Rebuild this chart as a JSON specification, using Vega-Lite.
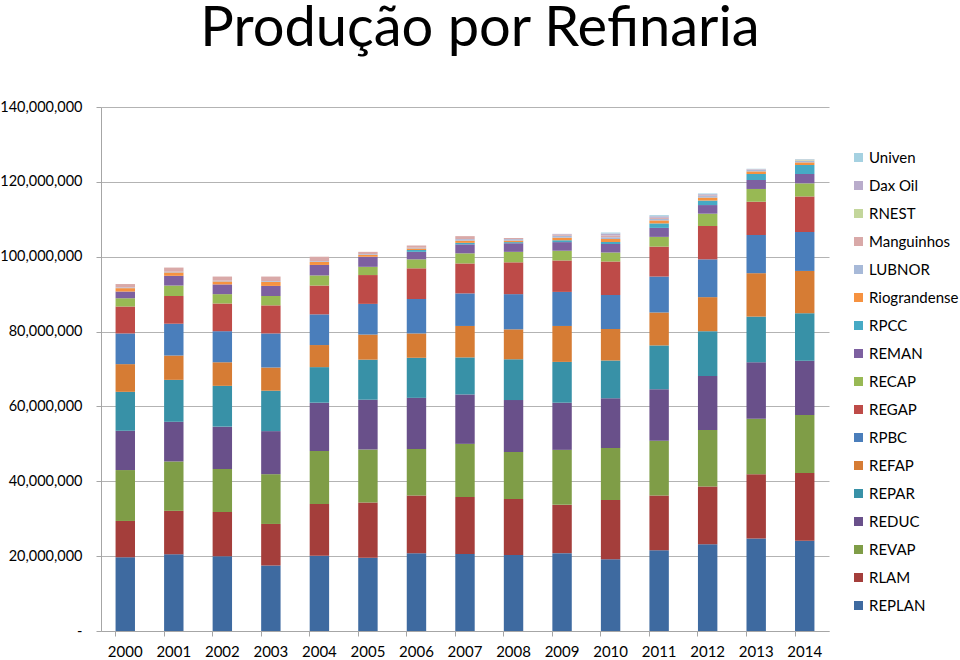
{
  "$schema": "https://vega.github.io/schema/vega-lite/v6.json",
  "autosize": "none",
  "width": 728,
  "height": 524,
  "padding": {"left": 101, "top": 107, "right": 131, "bottom": 29},
  "background": "white",
  "title": {
    "text": "Produção por Refinaria",
    "font": "Lato",
    "fontSize": 56,
    "fontWeight": "normal",
    "color": "#000000",
    "anchor": "middle",
    "frame": "group",
    "baseline": "bottom",
    "offset": -15,
    "dx": 15
  },
  "data": {
    "values": [
      {"ano": "2000", "REPLAN": 19700000, "RLAM": 9700000, "REVAP": 13600000, "REDUC": 10500000, "REPAR": 10400000, "REFAP": 7400000, "RPBC": 8200000, "REGAP": 7200000, "RECAP": 2200000, "REMAN": 1800000, "RPCC": 0, "Riograndense": 900000, "LUBNOR": 200000, "Manguinhos": 900000, "RNEST": 0, "Dax Oil": 0, "Univen": 0},
      {"ano": "2001", "REPLAN": 20500000, "RLAM": 11600000, "REVAP": 13200000, "REDUC": 10600000, "REPAR": 11200000, "REFAP": 6500000, "RPBC": 8500000, "REGAP": 7400000, "RECAP": 2800000, "REMAN": 2600000, "RPCC": 0, "Riograndense": 900000, "LUBNOR": 200000, "Manguinhos": 1100000, "RNEST": 0, "Dax Oil": 0, "Univen": 0},
      {"ano": "2002", "REPLAN": 20000000, "RLAM": 11800000, "REVAP": 11500000, "REDUC": 11300000, "REPAR": 10900000, "REFAP": 6300000, "RPBC": 8300000, "REGAP": 7400000, "RECAP": 2500000, "REMAN": 2600000, "RPCC": 0, "Riograndense": 800000, "LUBNOR": 200000, "Manguinhos": 1100000, "RNEST": 0, "Dax Oil": 0, "Univen": 0},
      {"ano": "2003", "REPLAN": 17500000, "RLAM": 11100000, "REVAP": 13300000, "REDUC": 11500000, "REPAR": 10800000, "REFAP": 6200000, "RPBC": 9100000, "REGAP": 7500000, "RECAP": 2500000, "REMAN": 2700000, "RPCC": 0, "Riograndense": 1100000, "LUBNOR": 200000, "Manguinhos": 1200000, "RNEST": 0, "Dax Oil": 0, "Univen": 0},
      {"ano": "2004", "REPLAN": 20100000, "RLAM": 13800000, "REVAP": 14200000, "REDUC": 12900000, "REPAR": 9500000, "REFAP": 5900000, "RPBC": 8200000, "REGAP": 7700000, "RECAP": 2700000, "REMAN": 2800000, "RPCC": 0, "Riograndense": 800000, "LUBNOR": 200000, "Manguinhos": 1200000, "RNEST": 0, "Dax Oil": 0, "Univen": 0},
      {"ano": "2005", "REPLAN": 19600000, "RLAM": 14700000, "REVAP": 14200000, "REDUC": 13300000, "REPAR": 10700000, "REFAP": 6700000, "RPBC": 8200000, "REGAP": 7700000, "RECAP": 2200000, "REMAN": 2700000, "RPCC": 0, "Riograndense": 500000, "LUBNOR": 200000, "Manguinhos": 600000, "RNEST": 0, "Dax Oil": 0, "Univen": 0},
      {"ano": "2006", "REPLAN": 20800000, "RLAM": 15400000, "REVAP": 12400000, "REDUC": 13700000, "REPAR": 10700000, "REFAP": 6500000, "RPBC": 9200000, "REGAP": 8200000, "RECAP": 2400000, "REMAN": 2000000, "RPCC": 500000, "Riograndense": 400000, "LUBNOR": 200000, "Manguinhos": 600000, "RNEST": 0, "Dax Oil": 0, "Univen": 0},
      {"ano": "2007", "REPLAN": 20600000, "RLAM": 15200000, "REVAP": 14200000, "REDUC": 13200000, "REPAR": 9900000, "REFAP": 8400000, "RPBC": 8700000, "REGAP": 8000000, "RECAP": 2700000, "REMAN": 2400000, "RPCC": 400000, "Riograndense": 600000, "LUBNOR": 400000, "Manguinhos": 800000, "RNEST": 0, "Dax Oil": 0, "Univen": 0},
      {"ano": "2008", "REPLAN": 20300000, "RLAM": 15000000, "REVAP": 12500000, "REDUC": 13900000, "REPAR": 10900000, "REFAP": 8000000, "RPBC": 9400000, "REGAP": 8500000, "RECAP": 2800000, "REMAN": 2300000, "RPCC": 300000, "Riograndense": 400000, "LUBNOR": 400000, "Manguinhos": 300000, "RNEST": 0, "Dax Oil": 0, "Univen": 0},
      {"ano": "2009", "REPLAN": 20800000, "RLAM": 12900000, "REVAP": 14700000, "REDUC": 12600000, "REPAR": 10900000, "REFAP": 9600000, "RPBC": 9100000, "REGAP": 8400000, "RECAP": 2600000, "REMAN": 2300000, "RPCC": 500000, "Riograndense": 700000, "LUBNOR": 500000, "Manguinhos": 300000, "RNEST": 0, "Dax Oil": 200000, "Univen": 0},
      {"ano": "2010", "REPLAN": 19200000, "RLAM": 15800000, "REVAP": 13900000, "REDUC": 13300000, "REPAR": 10100000, "REFAP": 8400000, "RPBC": 9100000, "REGAP": 8900000, "RECAP": 2400000, "REMAN": 2300000, "RPCC": 500000, "Riograndense": 800000, "LUBNOR": 500000, "Manguinhos": 500000, "RNEST": 0, "Dax Oil": 500000, "Univen": 300000},
      {"ano": "2011", "REPLAN": 21600000, "RLAM": 14600000, "REVAP": 14600000, "REDUC": 13800000, "REPAR": 11700000, "REFAP": 8800000, "RPBC": 9600000, "REGAP": 8000000, "RECAP": 2600000, "REMAN": 2400000, "RPCC": 1200000, "Riograndense": 800000, "LUBNOR": 400000, "Manguinhos": 300000, "RNEST": 0, "Dax Oil": 400000, "Univen": 300000},
      {"ano": "2012", "REPLAN": 23200000, "RLAM": 15400000, "REVAP": 15100000, "REDUC": 14400000, "REPAR": 12000000, "REFAP": 9100000, "RPBC": 10100000, "REGAP": 8900000, "RECAP": 3300000, "REMAN": 2300000, "RPCC": 1200000, "Riograndense": 800000, "LUBNOR": 400000, "Manguinhos": 200000, "RNEST": 0, "Dax Oil": 300000, "Univen": 200000},
      {"ano": "2013", "REPLAN": 24700000, "RLAM": 17200000, "REVAP": 14800000, "REDUC": 15100000, "REPAR": 12200000, "REFAP": 11600000, "RPBC": 10200000, "REGAP": 8900000, "RECAP": 3400000, "REMAN": 2400000, "RPCC": 1600000, "Riograndense": 700000, "LUBNOR": 400000, "Manguinhos": 100000, "RNEST": 0, "Dax Oil": 100000, "Univen": 100000},
      {"ano": "2014", "REPLAN": 24100000, "RLAM": 18100000, "REVAP": 15500000, "REDUC": 14500000, "REPAR": 12700000, "REFAP": 11300000, "RPBC": 10400000, "REGAP": 9500000, "RECAP": 3500000, "REMAN": 2500000, "RPCC": 2400000, "Riograndense": 700000, "LUBNOR": 400000, "Manguinhos": 100000, "RNEST": 200000, "Dax Oil": 100000, "Univen": 100000}
    ]
  },
  "transform": [
    {"fold": ["REPLAN", "RLAM", "REVAP", "REDUC", "REPAR", "REFAP", "RPBC", "REGAP", "RECAP", "REMAN", "RPCC", "Riograndense", "LUBNOR", "Manguinhos", "RNEST", "Dax Oil", "Univen"], "as": ["refinaria", "producao"]},
    {"calculate": "indexof(['REPLAN', 'RLAM', 'REVAP', 'REDUC', 'REPAR', 'REFAP', 'RPBC', 'REGAP', 'RECAP', 'REMAN', 'RPCC', 'Riograndense', 'LUBNOR', 'Manguinhos', 'RNEST', 'Dax Oil', 'Univen'], datum.refinaria)", "as": "ordem"}
  ],
  "mark": {"type": "bar"},
  "encoding": {
    "x": {
      "field": "ano",
      "type": "ordinal",
      "scale": {"paddingInner": 0.6, "paddingOuter": 0.3},
      "axis": {
        "title": null,
        "labelAngle": 0,
        "labelFont": "Lato",
        "labelFontSize": 15,
        "labelColor": "#000000",
        "labelPadding": 8,
        "bandPosition": 0,
        "ticks": true,
        "tickSize": 5,
        "tickColor": "#A6A6A6",
        "domainColor": "#A6A6A6",
        "grid": false
      }
    },
    "y": {
      "field": "producao",
      "type": "quantitative",
      "stack": "zero",
      "scale": {"domain": [0, 140000000], "nice": false},
      "axis": {
        "title": null,
        "values": [0, 20000000, 40000000, 60000000, 80000000, 100000000, 120000000, 140000000],
        "labelExpr": "datum.value == 0 ? '-\u00a0\u00a0\u00a0' : format(datum.value, ',')",
        "labelFont": "Lato",
        "labelFontSize": 14.5,
        "labelColor": "#000000",
        "labelPadding": 14,
        "tickSize": 5,
        "tickColor": "#A6A6A6",
        "domainColor": "#A6A6A6",
        "grid": true,
        "gridColor": "#B3B3B3"
      }
    },
    "order": {"field": "ordem", "type": "quantitative", "sort": "ascending"},
    "color": {
      "field": "refinaria",
      "type": "nominal",
      "sort": ["Univen", "Dax Oil", "RNEST", "Manguinhos", "LUBNOR", "Riograndense", "RPCC", "REMAN", "RECAP", "REGAP", "RPBC", "REFAP", "REPAR", "REDUC", "REVAP", "RLAM", "REPLAN"],
      "scale": {
        "domain": ["Univen", "Dax Oil", "RNEST", "Manguinhos", "LUBNOR", "Riograndense", "RPCC", "REMAN", "RECAP", "REGAP", "RPBC", "REFAP", "REPAR", "REDUC", "REVAP", "RLAM", "REPLAN"],
        "range": ["#A5D1E1", "#B9ACCB", "#C3D69B", "#D9A9A8", "#A7B9D8", "#F69240", "#46AAC5", "#7D60A0", "#98B954", "#BE4B48", "#4A7EBB", "#D67C34", "#3891A7", "#69508A", "#7F9D47", "#A43E3B", "#3E6AA0"]
      },
      "legend": {
        "title": null,
        "orient": "none",
        "legendX": 750,
        "legendY": 43,
        "symbolType": "square",
        "symbolSize": 81,
        "symbolStrokeWidth": 0,
        "labelFont": "Lato",
        "labelFontSize": 15,
        "labelColor": "#000000",
        "labelOffset": 3,
        "rowPadding": 12
      }
    }
  },
  "config": {"view": {"stroke": null}}
}
